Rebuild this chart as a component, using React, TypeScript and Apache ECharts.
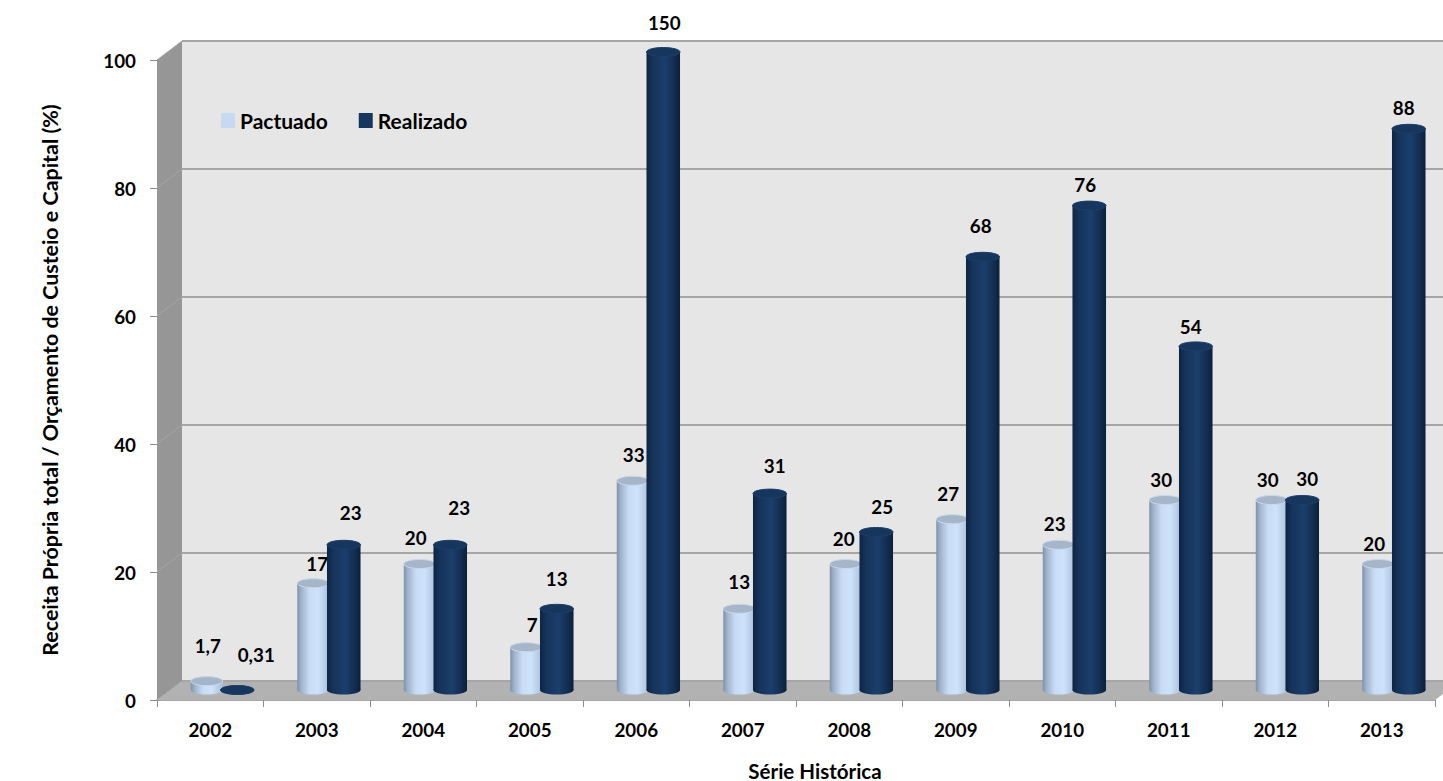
import React, { useEffect, useRef } from "react";
import * as echarts from "echarts";

const years = ["2002", "2003", "2004", "2005", "2006", "2007", "2008", "2009", "2010", "2011", "2012", "2013"];
const pactuado = [1.7, 17, 20, 7, 33, 13, 20, 27, 23, 30, 30, 20];
const realizado = [0.31, 23, 23, 13, 150, 31, 25, 68, 76, 54, 30, 88];
const yTicks = [0, 20, 40, 60, 80, 100];

// hand-placed data label nudges, in pixels from the top of each cylinder
const pactuadoNudgeX = [1, 4, -4, 6, 1, 0, -2, -4, -4, -4, -4, -4];
const pactuadoNudgeY = [-36, -20, -27, -23, -26, -27, -26, -26, -21, -21, -21, -21];
const realizadoNudgeX = [19, 7, 9, 0, 1, 5, 6, -2, -4, -5, 5, -5];
const realizadoNudgeY = [-36, -32, -37, -30, -30, -28, -26, -31, -21, -20, -22, -21];

const FONT = "Lato";
const DEPTH_X = 25;
const DEPTH_Y = -19;
const AXIS_MAX = 100;

const gradient = (stops: [number, string][]) => ({
  type: "linear", x: 0, y: 0, x2: 1, y2: 0,
  colorStops: stops.map(([offset, color]) => ({ offset, color })),
});

const lightBody = gradient([[0, "#7f90a8"], [0.12, "#a0b2ca"], [0.38, "#c8dcf6"], [0.65, "#cfe2fc"], [0.9, "#b6c9e2"], [1, "#a9bcd6"]]);
const darkBody = gradient([[0, "#0e2543"], [0.2, "#16345b"], [0.55, "#1b3e6b"], [0.85, "#122c4f"], [1, "#0c1f38"]]);

function cylinderSeries(name: string, values: number[], shift: number, bandShare: number, body: object, cap: string, capEdge: string, nudgeX: number[], nudgeY: number[]) {
  return {
    name,
    type: "custom",
    z: 3,
    data: values.map((v, i) => [i, Math.min(v, AXIS_MAX), v]),
    encode: { x: 0, y: 1 },
    renderItem: (params: any, api: any) => {
      const i = params.dataIndex;
      const [cx0, yTop0] = api.coord([api.value(0), api.value(1)]);
      const [, yBase0] = api.coord([api.value(0), 0]);
      const cx = cx0 + shift;
      const yBase = yBase0 - 10;
      const yTop = Math.min(yTop0 - 8, yBase);
      const rx = (api.size([1, 0])[0] * bandShare) / 2;
      const ry = 4.5;
      const text = String(api.value(2)).replace(".", ",");
      return {
        type: "group",
        children: [
          { type: "rect", shape: { x: cx - rx, y: yTop, width: rx * 2, height: yBase - yTop }, style: { fill: body } },
          { type: "ellipse", shape: { cx, cy: yBase, rx, ry }, style: { fill: body } },
          { type: "ellipse", shape: { cx, cy: yTop, rx, ry }, style: { fill: cap, stroke: capEdge, lineWidth: 1 } },
          {
            type: "text",
            z2: 50,
            style: {
              text,
              x: cx + nudgeX[i],
              y: yTop + nudgeY[i],
              align: "center",
              verticalAlign: "middle",
              fontFamily: FONT,
              fontWeight: "bold",
              fontSize: 18.8,
              fill: "#000000",
            },
          },
        ],
      };
    },
  };
}

const wallSeries = {
  name: "walls",
  type: "custom",
  z: 1,
  silent: true,
  data: yTicks.map((t) => [0, t]),
  encode: { x: 0, y: 1 },
  renderItem: (params: any, api: any) => {
    const xs = params.coordSys;
    const left = xs.x;
    const right = xs.x + xs.width;
    const y = api.coord([0, api.value(1)])[1];
    const children: any[] = [];
    if (params.dataIndex === 0) {
      const yTop = api.coord([0, AXIS_MAX])[1];
      const yBot = y;
      children.push(
        { type: "polygon", shape: { points: [[left + DEPTH_X, yTop + DEPTH_Y], [right + DEPTH_X, yTop + DEPTH_Y], [right + DEPTH_X, yBot + DEPTH_Y], [left + DEPTH_X, yBot + DEPTH_Y]] }, style: { fill: "#e6e6e6" } },
        { type: "polygon", shape: { points: [[left, yTop], [left + DEPTH_X, yTop + DEPTH_Y], [left + DEPTH_X, yBot + DEPTH_Y], [left, yBot]] }, style: { fill: "#969696" } },
        { type: "polygon", shape: { points: [[left, yBot], [left + DEPTH_X, yBot + DEPTH_Y], [right + DEPTH_X, yBot + DEPTH_Y], [right, yBot]] }, style: { fill: "#b2b2b2" } }
      );
    }
    children.push(
      { type: "line", z2: 5, shape: { x1: left + DEPTH_X, y1: y + DEPTH_Y, x2: right + DEPTH_X, y2: y + DEPTH_Y }, style: { stroke: "#a6a6a6", lineWidth: 2 } },
      { type: "line", z2: 5, shape: { x1: left, y1: y, x2: left + DEPTH_X, y2: y + DEPTH_Y }, style: { stroke: "#a6a6a6", lineWidth: 1 } }
    );
    return { type: "group", children };
  },
};

export default function App() {
  const ref = useRef<HTMLDivElement>(null);
  useEffect(() => {
    const chart = echarts.init(ref.current!, undefined, { renderer: "svg" });
    const axisText = { fontFamily: FONT, fontWeight: "bold" as const, fontSize: 18.8, color: "#000000" };
    chart.setOption({
      animation: false,
      backgroundColor: "#ffffff",
      grid: { left: 157, right: 8, top: 60, bottom: 81, containLabel: false, outerBoundsMode: "none" },
      legend: {
        left: 216,
        top: 105,
        data: ["Pactuado", "Realizado"],
        icon: "rect",
        itemWidth: 14,
        itemHeight: 15,
        itemGap: 31,
        textStyle: { fontFamily: FONT, fontWeight: "bold", fontSize: 21, color: "#000000" },
      },
      xAxis: {
        type: "category",
        data: years,
        name: "Série Histórica",
        nameLocation: "middle",
        nameGap: 60,
        nameTextStyle: { fontFamily: FONT, fontWeight: "bold", fontSize: 20.5, color: "#000000", padding: [0, 0, 0, 38] },
        axisLine: { show: true, lineStyle: { color: "#a6a6a6", width: 2 } },
        axisTick: { show: true, length: 7, lineStyle: { color: "#8c8c8c", width: 1 } },
        axisLabel: { ...axisText, margin: 20, interval: 0 },
        splitLine: { show: false },
      },
      yAxis: {
        type: "value",
        min: 0,
        max: AXIS_MAX,
        interval: 20,
        name: "Receita Própria total / Orçamento de Custeio e Capital (%)",
        nameLocation: "middle",
        nameGap: 97,
        nameTextStyle: { fontFamily: FONT, fontWeight: "bold", fontSize: 21.4, color: "#000000" },
        axisLine: { show: true, lineStyle: { color: "#8c8c8c", width: 1 } },
        axisTick: { show: true, length: 7, lineStyle: { color: "#8c8c8c", width: 1 } },
        axisLabel: { ...axisText, margin: 21 },
        splitLine: { show: false },
      },
      series: [
        wallSeries,
        { ...cylinderSeries("Pactuado", pactuado, -3.5, 0.3, lightBody, "#a6b5c8", "#c6d9f1", pactuadoNudgeX, pactuadoNudgeY), itemStyle: { color: "#c6d9f1" } },
        { ...cylinderSeries("Realizado", realizado, 27, 0.315, darkBody, "#17365d", "#1b3e6b", realizadoNudgeX, realizadoNudgeY), z: 4, itemStyle: { color: "#17365d" } },
      ],
    });
    return () => chart.dispose();
  }, []);
  return <div ref={ref} style={{ position: "absolute", left: 0, top: 0, width: 1443, height: 781 }} />;
}
